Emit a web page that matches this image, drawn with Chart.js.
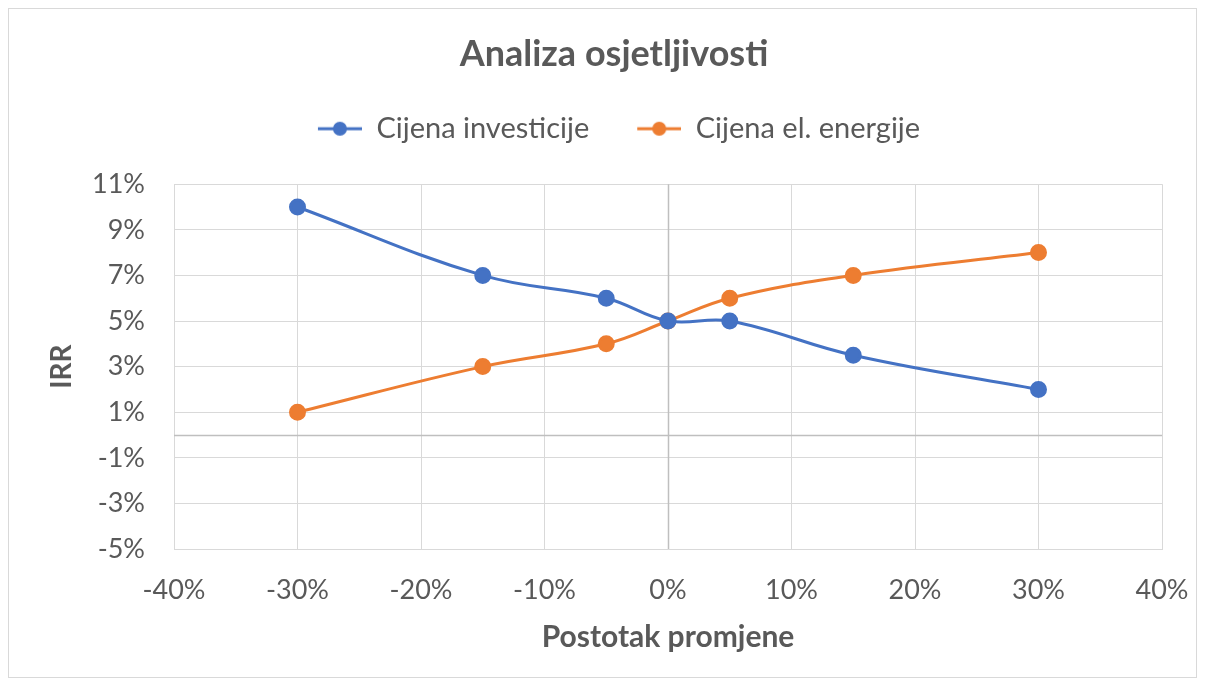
<!DOCTYPE html>
<html>
<head>
<meta charset="utf-8">
<script src="https://cdn.jsdelivr.net/npm/chart.js@4.4.0/dist/chart.umd.min.js"></script>
<style>
  html, body { margin: 0; padding: 0; background: #fff; }
  #box { position: absolute; left: 8px; top: 8px; width: 1189px; height: 670px; border: 1px solid #d9d9d9; box-sizing: border-box; }
  #chart { display: block; }
</style>
</head>
<body>
<div id="box"><canvas id="chart" width="1187" height="668"></canvas></div>
<script>
// % change of the input
var promjena = [-30, -15, -5, 0, 5, 15, 30];
// IRR in % for each change
var investicija = [10, 7, 6, 5, 5, 3.5, 2];
var energija = [1, 3, 4, 5, 6, 7, 8];

var seriesNames = ['Cijena investicije', 'Cijena el. energije'];
var colors = ['#4472C4', '#ED7D31'];

var font = "Lato, 'Open Sans', sans-serif";
var grey = '#595959';

function toPoints(xs, ys) {
    return xs.map(function (x, i) { return { x: x, y: ys[i] }; });
}

// little line-with-dot icon for the legend, like excel draws it
// (10px blank on the left to space the items apart)
function legendIcon(color) {
    var c = document.createElement('canvas');
    c.width = 54; c.height = 16;
    var g = c.getContext('2d');
    g.strokeStyle = color;
    g.lineWidth = 3;
    g.beginPath(); g.moveTo(10, 8); g.lineTo(54, 8); g.stroke();
    g.fillStyle = color;
    g.beginPath(); g.arc(32, 8, 7, 0, Math.PI * 2); g.fill();
    return c;
}

// darker lines where x = 0 and y = 0
var zeroLines = {
    id: 'zeroLines',
    beforeDatasetsDraw: function (chart) {
        var ctx = chart.ctx, a = chart.chartArea;
        var xs = chart.scales.x, ys = chart.scales.y;
        var px = Math.round(xs.getPixelForValue(0)) + 0.5;
        var py = Math.round(ys.getPixelForValue(0)) + 0.5;
        ctx.save();
        ctx.strokeStyle = '#bfbfbf';
        ctx.lineWidth = 1.5;
        ctx.beginPath();
        ctx.moveTo(px, a.top); ctx.lineTo(px, a.bottom);
        ctx.moveTo(a.left, py); ctx.lineTo(a.right, py);
        ctx.stroke();
        ctx.restore();
    }
};

// give the legend more room underneath
var legendGap = {
    id: 'legendGap',
    beforeLayout: function (chart) {
        var lg = chart.legend;
        if (!lg || lg._gapDone) return;
        var fit = lg.fit;
        lg.fit = function () {
            fit.call(this);
            this.height = 108;
        };
        lg._gapDone = true;
    }
};

var datasets = [investicija, energija].map(function (vals, i) {
    return {
        label: seriesNames[i],
        data: toPoints(promjena, vals),
        borderColor: colors[i],
        backgroundColor: colors[i],
        borderWidth: 3,
        pointRadius: 7,
        pointHoverRadius: 7,
        showLine: true,
        tension: 0.4
    };
});

new Chart(document.getElementById('chart'), {
    type: 'scatter',
    data: { datasets: datasets },
    plugins: [zeroLines, legendGap],
    options: {
        responsive: false,
        animation: false,
        layout: { padding: { left: 57, right: 34, top: 0, bottom: 0 } },
        plugins: {
            title: {
                display: true,
                text: 'Analiza osjetljivosti',
                color: grey,
                font: { family: font, size: 36, weight: 'bold' },
                padding: { top: 24, bottom: 0 }
            },
            legend: {
                labels: {
                    color: grey,
                    font: { family: font, size: 29 },
                    usePointStyle: true,
                    pointStyleWidth: 54,
                    padding: 38,
                    generateLabels: function (chart) {
                        return chart.data.datasets.map(function (d, i) {
                            return {
                                text: d.label,
                                pointStyle: legendIcon(colors[i]),
                                fillStyle: colors[i],
                                strokeStyle: colors[i],
                                fontColor: grey,
                                datasetIndex: i
                            };
                        });
                    }
                }
            },
            tooltip: { enabled: false }
        },
        scales: {
            x: {
                type: 'linear',
                min: -40, max: 40,
                afterFit: function (s) {
                    s.height = 128;
                    s.paddingLeft = 0;
                    s.paddingRight = 0;
                },
                ticks: {
                    stepSize: 10,
                    color: grey,
                    font: { family: font, size: 27 },
                    padding: 25,
                    callback: function (v) { return v + '%'; }
                },
                grid: { color: '#d9d9d9', drawTicks: false },
                border: { color: '#d9d9d9' },
                title: {
                    display: true,
                    text: 'Postotak promjene',
                    color: grey,
                    font: { family: font, size: 30, weight: 'bold' },
                    padding: { top: 0, bottom: 22 }
                }
            },
            y: {
                min: -5, max: 11,
                afterFit: function (s) { s.width = 108; },
                ticks: {
                    stepSize: 2,
                    color: grey,
                    font: { family: font, size: 27 },
                    padding: 29,
                    callback: function (v) { return v + '%'; }
                },
                grid: { color: '#d9d9d9', drawTicks: false },
                border: { color: '#d9d9d9' },
                title: {
                    display: true,
                    text: 'IRR',
                    color: grey,
                    font: { family: font, size: 28, weight: 'bold' },
                    padding: { top: -21, bottom: 0 }
                }
            }
        }
    }
});
</script>
</body>
</html>
